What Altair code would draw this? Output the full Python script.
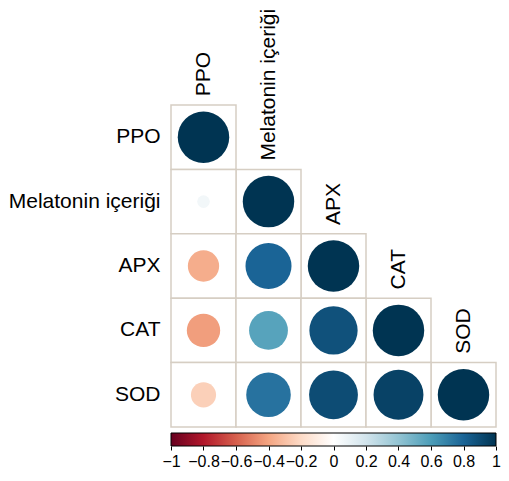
import altair as alt
import pandas as pd

variables = ["PPO", "Melatonin içeriği", "APX", "CAT", "SOD"]
row_vars = ["Melatonin içeriği", "APX", "APX", "CAT", "CAT", "CAT", "SOD", "SOD", "SOD", "SOD"]
col_vars = ["PPO", "PPO", "Melatonin içeriği", "PPO", "Melatonin içeriği", "APX", "PPO", "Melatonin içeriği", "APX", "CAT"]
r_values = [0.06, -0.37, 0.80, -0.42, 0.57, 0.88, -0.24, 0.75, 0.90, 0.94]

palette_stops = [-1, -0.8, -0.6, -0.4, -0.2, 0, 0.2, 0.4, 0.6, 0.8, 1]
palette_colors = ["#67001F", "#B2182B", "#D6604D", "#F4A582", "#FDDBC7", "#FFFFFF",
                  "#D2E4EC", "#93C4D3", "#4C9DB8", "#1A6496", "#003452"]
bar_ticks = [-1, -0.8, -0.6, -0.4, -0.2, 0, 0.2, 0.4, 0.6, 0.8, 1]

rows = [v for v in variables] + row_vars
cols = [v for v in variables] + col_vars
vals = [1.0] * len(variables) + r_values
cells = pd.DataFrame({"row": rows, "col": cols, "r": vals})
diag = pd.DataFrame({"var": variables})
bar = pd.DataFrame({"lo": [bar_ticks[0]], "hi": [bar_ticks[-1]]})

FONT = "Liberation Sans"

xs = alt.Scale(domain=variables, paddingInner=0, paddingOuter=0)
ys = alt.Scale(domain=variables, paddingInner=0, paddingOuter=0)

rects = alt.Chart(cells).mark_rect(fill="white", stroke="#D6CEC3", strokeWidth=1.5).encode(
    x=alt.X("col:N", scale=xs, axis=None),
    y=alt.Y("row:N", scale=ys, axis=alt.Axis(
        title=None, ticks=False, domain=False, labelFontSize=21, labelFont=FONT,
        labelColor="black", labelPadding=11, labelLimit=300)),
)

circles = alt.Chart(cells).transform_calculate(
    absr="abs(datum.r)"
).mark_circle(opacity=1, stroke=None).encode(
    x=alt.X("col:N", scale=xs, axis=None),
    y=alt.Y("row:N", scale=ys),
    size=alt.Size("absr:Q", scale=alt.Scale(domain=[0, 1], range=[0, 2650], zero=True), legend=None),
    color=alt.Color("r:Q", scale=alt.Scale(domain=palette_stops, range=palette_colors, interpolate="rgb"), legend=None),
)

labels = alt.Chart(diag).mark_text(
    angle=270, align="left", baseline="middle", dx=41, fontSize=21, font=FONT, color="black"
).encode(
    x=alt.X("var:N", scale=xs, axis=None),
    y=alt.Y("var:N", scale=ys),
    text="var:N",
)

matrix = alt.layer(rects, circles, labels)

grad = alt.Gradient(
    gradient="linear",
    stops=[alt.GradientStop(color=c, offset=(s + 1) / 2) for s, c in zip(palette_stops, palette_colors)],
    x1=0, x2=1, y1=0, y2=0,
)

colorbar = alt.Chart(bar).mark_rect(color=grad, stroke="black", strokeWidth=1).encode(
    x=alt.X("lo:Q", scale=alt.Scale(domain=[-1, 1], nice=False, zero=False),
            axis=alt.Axis(orient="bottom", offset=19, values=bar_ticks, format="~g", domain=False,
                          tickSize=4, tickColor="black", tickWidth=1, labelFontSize=16, labelFont=FONT,
                          labelColor="black", labelPadding=3, labelFlush=False, labelOverlap=False,
                          grid=False, title=None)),
    x2="hi:Q",
    y=alt.value(328),
    y2=alt.value(341),
)

chart = alt.layer(matrix, colorbar).resolve_scale(x="independent").properties(
    width=325, height=322,
    autosize=alt.AutoSizeParams(type="none"),
    padding={"left": 163, "top": 97, "right": 5, "bottom": 44},
).configure_view(stroke=None)

chart.save("out.html", embed_options={"renderer": "svg", "actions": False})
